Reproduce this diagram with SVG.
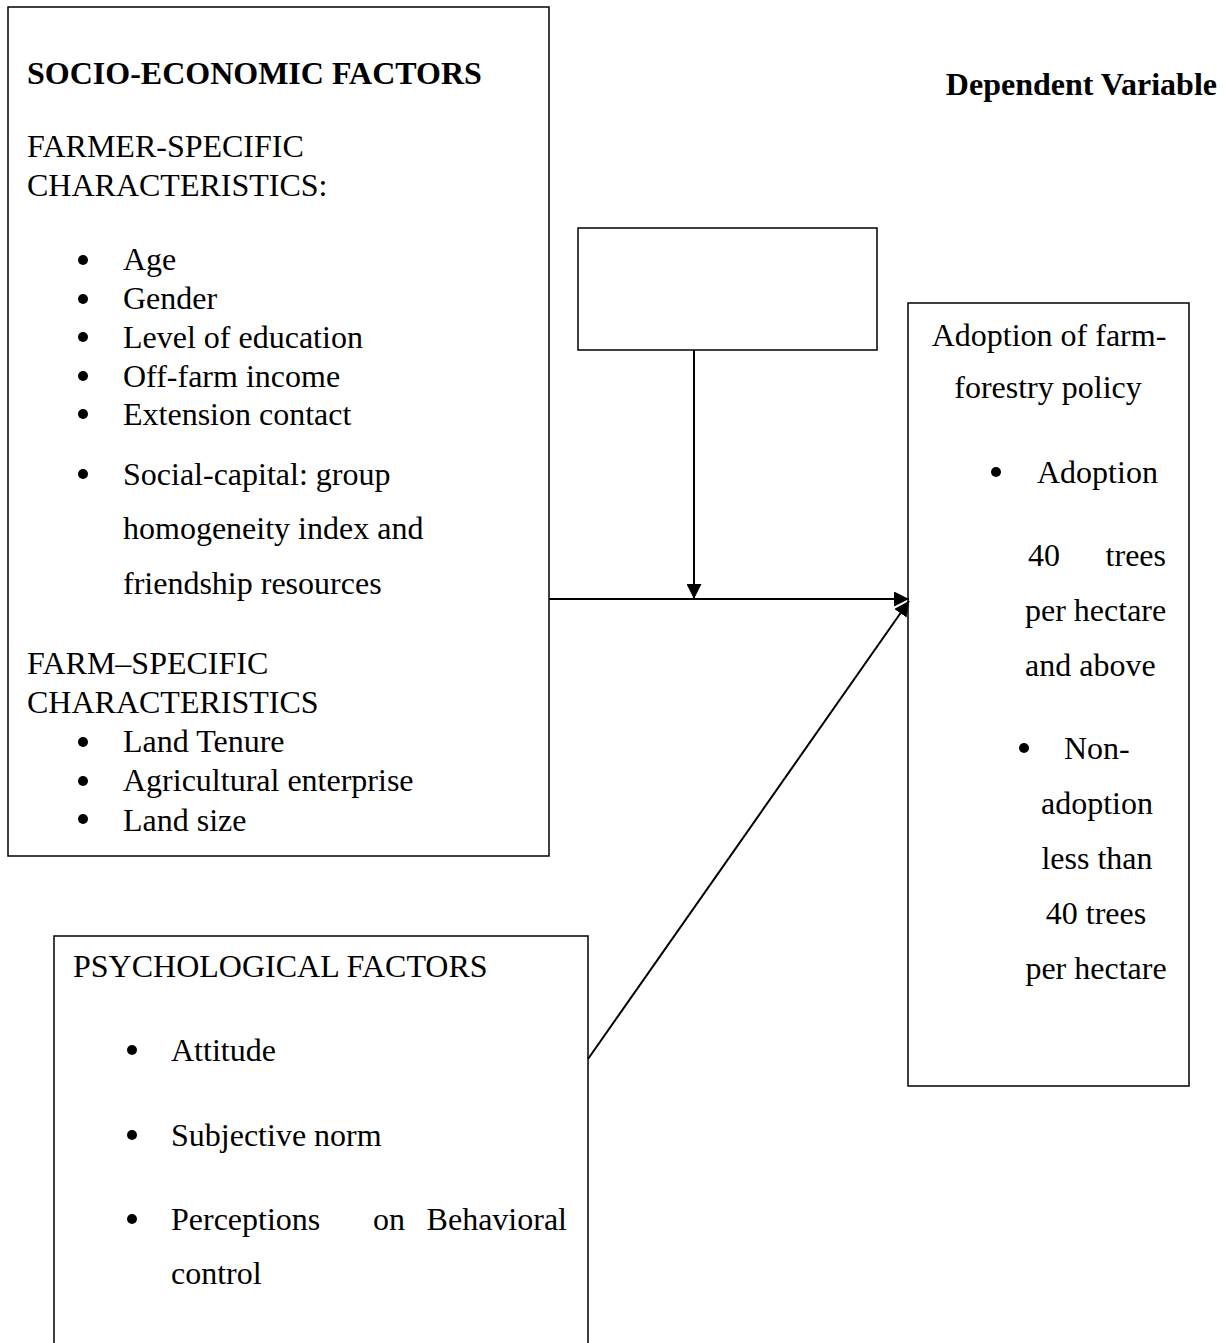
<svg xmlns="http://www.w3.org/2000/svg" width="1226" height="1343" viewBox="0 0 1226 1343">
  <style>
    .box { fill: #ffffff; stroke: #000000; stroke-width: 1.5; }
    .t { font-family: "Liberation Serif", "Times New Roman", serif; font-size: 32px; fill: #000000; }
    .b { font-weight: bold; }
    .bul { fill: #000000; }
    .wire { fill: none; stroke: #000000; stroke-width: 2; }
  </style>
  <defs>
    <marker id="arrow" viewBox="0 0 15 15" refX="15" refY="7.5" markerWidth="15" markerHeight="15" markerUnits="userSpaceOnUse" orient="auto">
      <path d="M0,0 L15,7.5 L0,15 Z" fill="#000000"/>
    </marker>
  </defs>
  <rect width="1226" height="1343" fill="#ffffff"/>

  <!-- socio-economic factors -->
  <g id="socio-economic">
    <rect class="box" x="8" y="7" width="541" height="849"/>
    <text class="t b" x="27" y="84">SOCIO-ECONOMIC FACTORS</text>
    <text class="t" x="27" y="157">FARMER-SPECIFIC</text>
    <text class="t" x="27" y="196">CHARACTERISTICS:</text>
    <circle class="bul" cx="83" cy="260" r="5"/>
    <text class="t" x="123" y="270">Age</text>
    <circle class="bul" cx="83" cy="299" r="5"/>
    <text class="t" x="123" y="309">Gender</text>
    <circle class="bul" cx="83" cy="337" r="5"/>
    <text class="t" x="123" y="348">Level of education</text>
    <circle class="bul" cx="83" cy="376" r="5"/>
    <text class="t" x="123" y="387">Off-farm income</text>
    <circle class="bul" cx="83" cy="414" r="5"/>
    <text class="t" x="123" y="425">Extension contact</text>
    <circle class="bul" cx="83" cy="474" r="5"/>
    <text class="t" x="123" y="485">Social-capital: group</text>
    <text class="t" x="123" y="539">homogeneity index and</text>
    <text class="t" x="123" y="594">friendship resources</text>
    <text class="t" x="27" y="674">FARM–SPECIFIC</text>
    <text class="t" x="27" y="713">CHARACTERISTICS</text>
    <circle class="bul" cx="83" cy="742" r="5"/>
    <text class="t" x="123" y="752">Land Tenure</text>
    <circle class="bul" cx="83" cy="781" r="5"/>
    <text class="t" x="123" y="791">Agricultural enterprise</text>
    <circle class="bul" cx="83" cy="819" r="5"/>
    <text class="t" x="123" y="831">Land size</text>
  </g>

  <!-- empty moderating box -->
  <g id="moderator">
    <rect class="box" x="578" y="228" width="299" height="122"/>
  </g>

  <!-- dependent variable heading -->
  <g id="dependent-heading">
    <text class="t b" x="1217" y="95" text-anchor="end">Dependent Variable</text>
  </g>

  <!-- adoption outcome -->
  <g id="adoption">
    <rect class="box" x="908" y="303" width="281" height="783"/>
    <text class="t" x="1049" y="346" text-anchor="middle">Adoption of farm-</text>
    <text class="t" x="1048" y="398" text-anchor="middle">forestry policy</text>
    <circle class="bul" cx="996" cy="472" r="5"/>
    <text class="t" x="1037" y="483">Adoption</text>
    <text class="t" x="1028" y="566">40</text>
    <text class="t" x="1166" y="566" text-anchor="end">trees</text>
    <text class="t" x="1025" y="621">per hectare</text>
    <text class="t" x="1025" y="676">and above</text>
    <circle class="bul" cx="1024" cy="748" r="5"/>
    <text class="t" x="1064" y="759">Non-</text>
    <text class="t" x="1097" y="814" text-anchor="middle">adoption</text>
    <text class="t" x="1097" y="869" text-anchor="middle">less than</text>
    <text class="t" x="1096" y="924" text-anchor="middle">40 trees</text>
    <text class="t" x="1096" y="979" text-anchor="middle">per hectare</text>
  </g>

  <!-- psychological factors -->
  <g id="psychological">
    <path class="box" d="M54,1345 L54,936 L588,936 L588,1345"/>
    <text class="t" x="73" y="977">PSYCHOLOGICAL FACTORS</text>
    <circle class="bul" cx="132" cy="1050" r="5"/>
    <text class="t" x="171" y="1061">Attitude</text>
    <circle class="bul" cx="132" cy="1135" r="5"/>
    <text class="t" x="171" y="1146">Subjective norm</text>
    <circle class="bul" cx="132" cy="1219" r="5"/>
    <text class="t" x="171" y="1230">Perceptions</text>
    <text class="t" x="373" y="1230">on</text>
    <text class="t" x="567" y="1230" text-anchor="end">Behavioral</text>
    <text class="t" x="171" y="1284">control</text>
  </g>

  <!-- connectors -->
  <g id="connectors">
    <line class="wire" x1="694" y1="350" x2="694" y2="599" marker-end="url(#arrow)"/>
    <line class="wire" x1="549" y1="599" x2="909" y2="599" marker-end="url(#arrow)"/>
    <line class="wire" x1="588" y1="1059" x2="909" y2="601" marker-end="url(#arrow)"/>
  </g>
</svg>
